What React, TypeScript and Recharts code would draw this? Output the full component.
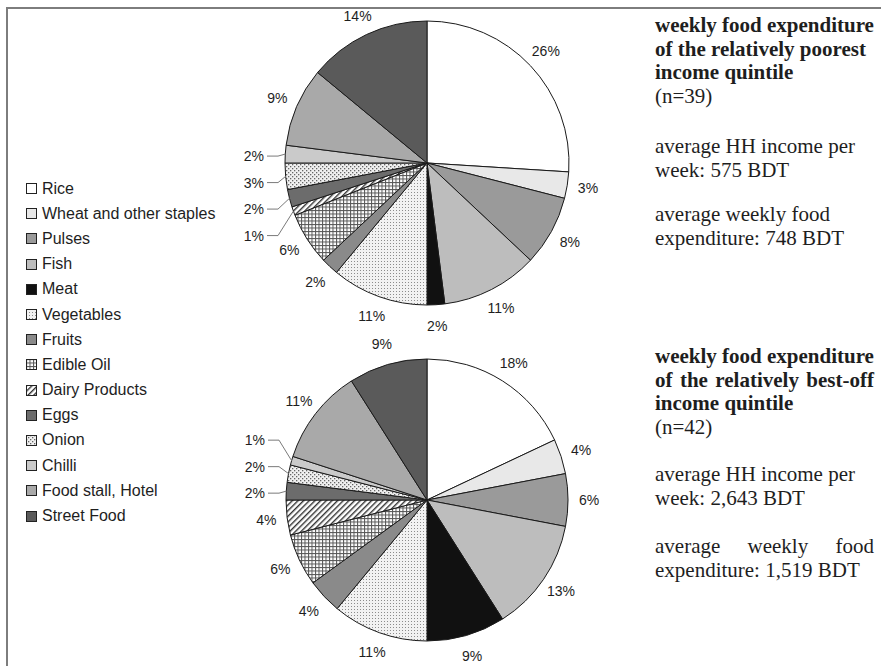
import { PieChart, Pie, Cell } from "recharts";

const categories = [
  "Rice",
  "Wheat and other staples",
  "Pulses",
  "Fish",
  "Meat",
  "Vegetables",
  "Fruits",
  "Edible Oil",
  "Dairy Products",
  "Eggs",
  "Onion",
  "Chilli",
  "Food stall, Hotel",
  "Street Food",
];

// shares of weekly food expenditure, %
const poorestShares = [26, 3, 8, 11, 2, 11, 2, 6, 1, 2, 3, 2, 9, 14];
const bestOffShares = [18, 4, 6, 13, 9, 11, 4, 6, 4, 2, 2, 1, 11, 9];

// slices whose labels sit off to the left on leader lines
const poorestLeaders = ["Dairy Products", "Eggs", "Onion", "Chilli"];
const bestOffLeaders = ["Eggs", "Onion", "Chilli"];

const poorestTitle = ["weekly food expenditure", "of the relatively poorest", "income quintile", "(n=39)"];
const poorestIncome = ["average HH income per", "week: 575 BDT"];
const poorestFood = ["average weekly food", "expenditure: 748 BDT"];

const bestOffTitle = ["weekly food expenditure", "of the relatively best-off", "income quintile", "(n=42)"];
const bestOffIncome = ["average HH income per", "week: 2,643 BDT"];
const bestOffFood = ["average weekly food", "expenditure: 1,519 BDT"];

const fills = [
  "#ffffff",
  "#e8e8e8",
  "#9a9a9a",
  "#bdbdbd",
  "#111111",
  "url(#pat-veg)",
  "#8a8a8a",
  "url(#pat-oil)",
  "url(#pat-dairy)",
  "#6c6c6c",
  "url(#pat-onion)",
  "#cacaca",
  "#a9a9a9",
  "#5a5a5a",
];

const RAD = Math.PI / 180;
const INK = "#1e1e1e";

function makeLabel(shares: number[], leaders: string[], r: number) {
  const total = shares.reduce((a, b) => a + b, 0);
  let cum = 0;
  // mid angle of each slice, clockwise from 12 o'clock
  const mids = shares.map((v) => {
    const m = ((cum + v / 2) / total) * 2 * Math.PI;
    cum += v;
    return m;
  });
  const items = leaders
    .map((n) => categories.indexOf(n))
    .map((i) => ({ i, dy: -r * Math.cos(mids[i]) }))
    .sort((a, b) => a.dy - b.dy);
  // keep the label nearest the horizontal, push the rest apart
  const gap = 26.5;
  let anchor = 0;
  items.forEach((it, k) => {
    if (Math.abs(it.dy) < Math.abs(items[anchor].dy)) anchor = k;
  });
  const ys = items.map((it) => it.dy);
  for (let k = anchor - 1; k >= 0; k--) ys[k] = Math.min(ys[k], ys[k + 1] - gap);
  for (let k = anchor + 1; k < ys.length; k++) ys[k] = Math.max(ys[k], ys[k - 1] + gap);
  const leaderY: Record<number, number> = {};
  items.forEach((it, k) => (leaderY[it.i] = ys[k]));

  return (props: any) => {
    const { cx, cy, midAngle, outerRadius, index, value } = props;
    const cos = Math.cos(-midAngle * RAD);
    const sin = Math.sin(-midAngle * RAD);
    if (leaderY[index] !== undefined) {
      const ly = cy + leaderY[index] + 2;
      const tx = cx - outerRadius - 21;
      const px = cx + outerRadius * cos;
      const py = cy + outerRadius * sin;
      return (
        <g key={`lab-${index}`}>
          <polyline
            points={`${tx + 3},${ly} ${tx + 14},${ly} ${px},${py}`}
            fill="none"
            stroke="#7a7a7a"
            strokeWidth={1}
          />
          <text x={tx} y={ly} textAnchor="end" dominantBaseline="central" fontSize={14} fill={INK}>
            {value}%
          </text>
        </g>
      );
    }
    const rr = outerRadius + 21;
    return (
      <text
        key={`lab-${index}`}
        x={cx + rr * cos}
        y={cy + rr * sin}
        textAnchor="middle"
        dominantBaseline="central"
        fontSize={14}
        fill={INK}
      >
        {value}%
      </text>
    );
  };
}

const poorestRows = categories.map((name, i) => ({ name, value: poorestShares[i] }));
const bestOffRows = categories.map((name, i) => ({ name, value: bestOffShares[i] }));

function TextLines({
  lines,
  top,
  bold,
  justify,
}: {
  lines: string[];
  top: number;
  bold?: boolean;
  justify?: number[];
}) {
  return (
    <div style={{ position: "absolute", left: 655, top, width: 219 }}>
      {lines.map((l, i) => (
        <div
          key={i}
          style={{
            height: 23.5,
            lineHeight: "23.5px",
            whiteSpace: "nowrap",
            fontWeight: bold && i < 3 ? 700 : 400,
            textAlign: justify && justify.includes(i) ? "justify" : "left",
            textAlignLast: justify && justify.includes(i) ? "justify" : "auto",
          }}
        >
          {l}
        </div>
      ))}
    </div>
  );
}

export default function App() {
  return (
    <div
      style={{
        position: "absolute",
        left: 0,
        top: 0,
        width: 881,
        height: 666,
        background: "#fff",
        overflow: "hidden",
        fontFamily: "'Liberation Sans', Arial, sans-serif",
        color: INK,
      }}
    >
      <svg width={0} height={0} style={{ position: "absolute" }}>
        <defs>
          <pattern id="pat-veg" width={3} height={3} patternUnits="userSpaceOnUse">
            <rect width={3} height={3} fill="#f2f2f2" />
            <rect width={1} height={1} fill="#8c8c8c" />
          </pattern>
          <pattern id="pat-oil" width={3.5} height={3.5} patternUnits="userSpaceOnUse">
            <rect width={3.5} height={3.5} fill="#ffffff" />
            <rect width={3.5} height={1} fill="#555" />
            <rect width={1} height={3.5} fill="#555" />
          </pattern>
          <pattern
            id="pat-dairy"
            width={4}
            height={4}
            patternUnits="userSpaceOnUse"
            patternTransform="rotate(45)"
          >
            <rect width={4} height={4} fill="#ffffff" />
            <rect width={1.4} height={4} fill="#333" />
          </pattern>
          <pattern id="pat-onion" width={4} height={4} patternUnits="userSpaceOnUse">
            <rect width={4} height={4} fill="#f0f0f0" />
            <rect width={1.3} height={1.3} fill="#666" />
            <rect x={2} y={2} width={1.3} height={1.3} fill="#666" />
          </pattern>
        </defs>
      </svg>

      <div style={{ position: "absolute", left: 0, top: 0 }}>
        <PieChart width={881} height={666} margin={{ top: 0, right: 0, bottom: 0, left: 0 }}>
          <Pie
            data={poorestRows}
            dataKey="value"
            nameKey="name"
            cx={427}
            cy={163}
            outerRadius={142}
            startAngle={90}
            endAngle={-270}
            stroke="#1a1a1a"
            strokeWidth={1}
            label={makeLabel(poorestShares, poorestLeaders, 142)}
            labelLine={false}
            isAnimationActive={false}
          >
            {categories.map((c, i) => (
              <Cell key={c} fill={fills[i]} />
            ))}
          </Pie>
          <Pie
            data={bestOffRows}
            dataKey="value"
            nameKey="name"
            cx={427}
            cy={500}
            outerRadius={141}
            startAngle={90}
            endAngle={-270}
            stroke="#1a1a1a"
            strokeWidth={1}
            label={makeLabel(bestOffShares, bestOffLeaders, 141)}
            labelLine={false}
            isAnimationActive={false}
          >
            {categories.map((c, i) => (
              <Cell key={c} fill={fills[i]} />
            ))}
          </Pie>
        </PieChart>
      </div>

      {/* frame */}
      <div style={{ position: "absolute", left: 6, top: 7, width: 875, height: 2, background: "#7d7d7d" }} />
      <div style={{ position: "absolute", left: 6, top: 7, width: 2, height: 659, background: "#7d7d7d" }} />

      {/* legend */}
      <div style={{ position: "absolute", left: 26, top: 176 }}>
        {categories.map((c, i) => (
          <div
            key={c}
            style={{ display: "flex", alignItems: "center", height: 25.2, fontSize: 16, lineHeight: "18px" }}
          >
            <svg width={11} height={11} style={{ flexShrink: 0, marginRight: 5 }}>
              <rect x={0.5} y={0.5} width={10} height={10} fill={fills[i]} stroke="#222" strokeWidth={1} />
            </svg>
            <span>{c}</span>
          </div>
        ))}
      </div>

      {/* side notes */}
      <div style={{ fontFamily: "'Liberation Serif', 'Times New Roman', serif", fontSize: 21 }}>
        <TextLines lines={poorestTitle} top={14} bold />
        <TextLines lines={poorestIncome} top={135} />
        <TextLines lines={poorestFood} top={203} />
        <TextLines lines={bestOffTitle} top={345} bold justify={[1]} />
        <TextLines lines={bestOffIncome} top={463} />
        <TextLines lines={bestOffFood} top={535} justify={[0]} />
      </div>
    </div>
  );
}
